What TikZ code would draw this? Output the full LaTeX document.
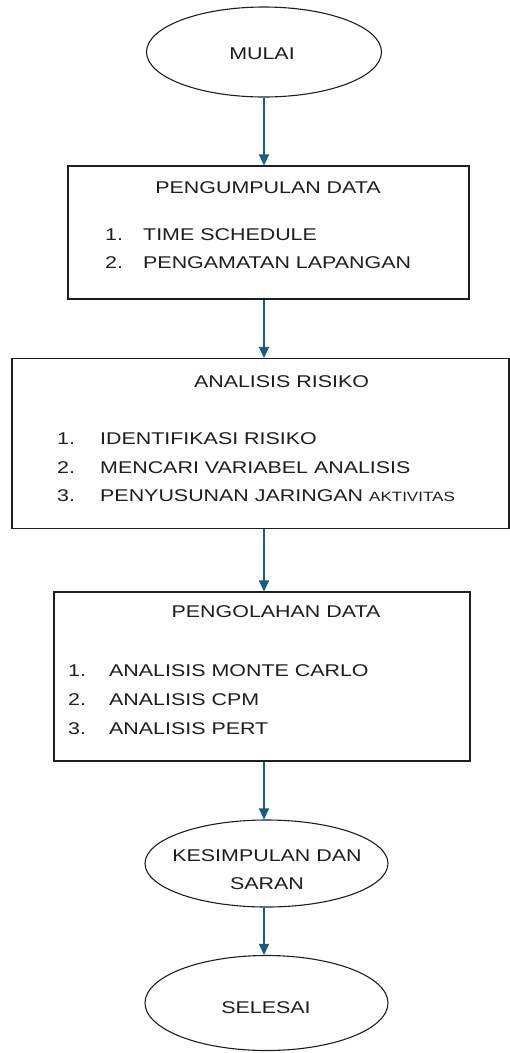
\documentclass[tikz,border=0pt]{standalone}
\usepackage{fontspec}
\setmainfont{Liberation Sans}[FakeStretch=1.26]
\usetikzlibrary{shapes.geometric,arrows.meta}
\definecolor{arr}{RGB}{22,92,132}
\definecolor{ink}{RGB}{30,30,30}
\begin{document}
\begin{tikzpicture}[x=1pt,y=-1pt,
  txt/.style={inner sep=0pt, text=ink, font=\fontsize{17}{20}\selectfont},
  box/.style={draw=ink, line width=1.1pt, inner sep=0pt},
  oval/.style={draw=ink, line width=1.1pt, ellipse, inner sep=0pt},
  conn/.style={draw=arr, line width=1.2pt, -{Triangle[length=11pt,width=10pt]}}]
\useasboundingbox (0,0) rectangle (510,1053);
% start
\node[oval, minimum width=235pt, minimum height=90pt] (m) at (264,52) {};
\node[txt] (mt) at (262,54) {MULAI};
% box 1
\node[box, minimum width=401pt, minimum height=133pt] (b1) at (268.5,232.5) {};
\node[txt] (b1t) at (268,188) {PENGUMPULAN DATA};
\node[txt, anchor=base west] (b1a) at (105,240) {\makebox[38pt][l]{1.}TIME SCHEDULE};
\node[txt, anchor=base west] (b1b) at (105,268) {\makebox[38pt][l]{2.}PENGAMATAN LAPANGAN};
% box 2
\node[box, minimum width=497pt, minimum height=170pt] (b2) at (260.5,443.5) {};
\node[txt] (b2t) at (281.5,382) {ANALISIS RISIKO};
\node[txt, anchor=base west] (b2a) at (57,444) {\makebox[43pt][l]{1.}IDENTIFIKASI RISIKO};
\node[txt, anchor=base west] (b2b) at (57,473) {\makebox[43pt][l]{2.}MENCARI VARIABEL ANALISIS};
\node[txt, anchor=base west] (b2c) at (57,501) {\makebox[43pt][l]{3.}PENYUSUNAN JARINGAN {\fontsize{13.5}{16}\selectfont AKTIVITAS}};
% box 3
\node[box, minimum width=416pt, minimum height=169pt] (b3) at (262,676.5) {};
\node[txt] (b3t) at (276,612) {PENGOLAHAN DATA};
\node[txt, anchor=base west] (b3a) at (68,676) {\makebox[41pt][l]{1.}ANALISIS MONTE CARLO};
\node[txt, anchor=base west] (b3b) at (68,705.5) {\makebox[41pt][l]{2.}ANALISIS CPM};
\node[txt, anchor=base west] (b3c) at (68,734) {\makebox[41pt][l]{3.}ANALISIS PERT};
% conclusion
\node[oval, minimum width=243pt, minimum height=87pt] (k) at (266.5,863.5) {};
\node[txt, align=center] (kt) at (267,870) {KESIMPULAN DAN\\[8pt]SARAN};
% end
\node[oval, minimum width=243pt, minimum height=95pt] (s) at (266.5,1003) {};
\node[txt] (st) at (266,1008) {SELESAI};
% connectors
\draw[conn] (m.south) -- (m.south |- b1.north);
\draw[conn] (b1.south -| m.south) -- (b2.north -| m.south);
\draw[conn] (b2.south -| m.south) -- (b3.north -| m.south);
\draw[conn] (b3.south -| m.south) -- (k.north -| m.south);
\draw[conn] (k.south -| m.south) -- (s.north -| m.south);
\end{tikzpicture}
\end{document}
